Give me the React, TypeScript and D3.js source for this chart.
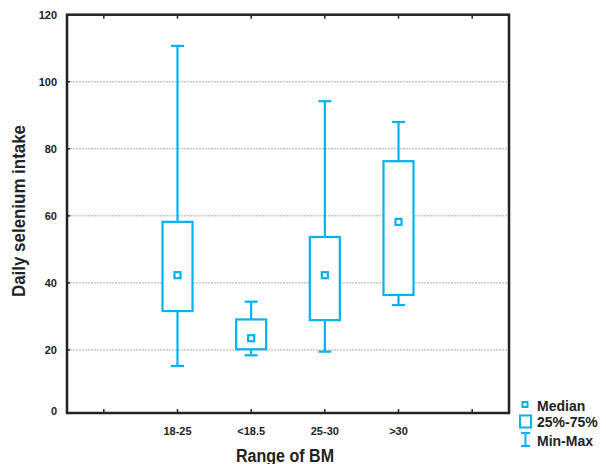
import React from "react";
import * as d3 from "d3";

const categories = ["", "18-25", "<18.5", "25-30", ">30", " "];
const groups = ["18-25", "<18.5", "25-30", ">30"];
const minVals = [15.2, 18.4, 19.5, 33.4];
const q1Vals = [31.6, 20.2, 28.9, 36.4];
const medianVals = [42.3, 23.5, 42.3, 58.2];
const q3Vals = [58.2, 29.1, 53.7, 76.3];
const maxVals = [110.7, 34.4, 94.2, 88];
const yTicks = [0, 20, 40, 60, 80, 100, 120];
const gridVals = [20, 40, 60, 80, 100];

const BLUE = "#00b2ee";

export default function App() {
  const W = 606, H = 464;
  const left = 67, right = 509, top = 14.7, bottom = 413;
  const x = d3.scaleBand<string>().domain(categories).range([left, right]);
  const y = d3.scaleLinear().domain([0, 120]).range([417, top]);
  const cx = (c: string) => (x(c) as number) + x.bandwidth() / 2;
  const boxW = 30, capW = 13;
  const font = "'Liberation Sans', Arial, sans-serif";

  return (
    <svg width={W} height={H} style={{ position: "absolute", left: 0, top: 0 }}>
      <rect x={0} y={0} width={W} height={H} fill="#fff" />
      {gridVals.map((v) => (
        <line key={v} x1={left} x2={right} y1={y(v)} y2={y(v)} stroke="#aaa" strokeWidth={1} strokeDasharray="2,1" />
      ))}
      {groups.map((g, i) => {
        const c = cx(g);
        return (
          <g key={g} stroke={BLUE} strokeWidth={2.2} fill="none">
            <line x1={c} x2={c} y1={y(maxVals[i])} y2={y(q3Vals[i])} />
            <line x1={c} x2={c} y1={y(q1Vals[i])} y2={y(minVals[i])} />
            <line x1={c - capW / 2} x2={c + capW / 2} y1={y(maxVals[i])} y2={y(maxVals[i])} />
            <line x1={c - capW / 2} x2={c + capW / 2} y1={y(minVals[i])} y2={y(minVals[i])} />
            <rect x={c - boxW / 2} y={y(q3Vals[i])} width={boxW} height={y(q1Vals[i]) - y(q3Vals[i])} fill="#fff" />
            <rect x={c - 3} y={y(medianVals[i]) - 3} width={6} height={6} fill="#fff" />
          </g>
        );
      })}
      {/* frame */}
      <rect x={left} y={top} width={right - left} height={bottom - top} fill="none" stroke="#222" strokeWidth={2.5} />
      {categories.map((c, i) => (
        <g key={i} stroke="#222" strokeWidth={1.5}>
          <line x1={cx(c)} x2={cx(c)} y1={bottom} y2={bottom - 4} />
          <line x1={cx(c)} x2={cx(c)} y1={top} y2={top + 4} />
        </g>
      ))}
      {gridVals.map((v) => (
        <line key={v} x1={left} x2={left + 3} y1={y(v)} y2={y(v)} stroke="#222" strokeWidth={1.5} />
      ))}
      {yTicks.map((v) => (
        <text key={v} x={57} y={Math.min(y(v), bottom - 1.5)} dy="0.35em" textAnchor="end" fontFamily={font} fontWeight="bold" fontSize={11} fill="#222">
          {v}
        </text>
      ))}
      {groups.map((g) => (
        <text key={g} x={cx(g)} y={435} textAnchor="middle" fontFamily={font} fontWeight="bold" fontSize={11} fill="#222">
          {g}
        </text>
      ))}
      <text x={285} y={461.5} textAnchor="middle" fontFamily={font} fontWeight="bold" fontSize={18} textLength={98} lengthAdjust="spacingAndGlyphs" fill="#222">
        Range of BM
      </text>
      <text transform={`translate(25,211) rotate(-90)`} textAnchor="middle" fontFamily={font} fontWeight="bold" fontSize={18} textLength={172} lengthAdjust="spacingAndGlyphs" fill="#222">
        Daily selenium intake
      </text>
      {/* legend */}
      <g stroke={BLUE} strokeWidth={2} fill="none">
        <rect x={522.5} y={402} width={5} height={5} fill="#fff" />
        <rect x={520} y={415.5} width={11} height={12} fill="#fff" />
        <line x1={525.5} x2={525.5} y1={433} y2={446} />
        <line x1={521} x2={530} y1={433} y2={433} />
        <line x1={521} x2={530} y1={446} y2={446} />
      </g>
      <g fontFamily={font} fontWeight="bold" fontSize={14} fill="#222">
        <text x={537} y={410.5}>Median</text>
        <text x={537} y={427}>25%-75%</text>
        <text x={537} y={446}>Min-Max</text>
      </g>
    </svg>
  );
}
